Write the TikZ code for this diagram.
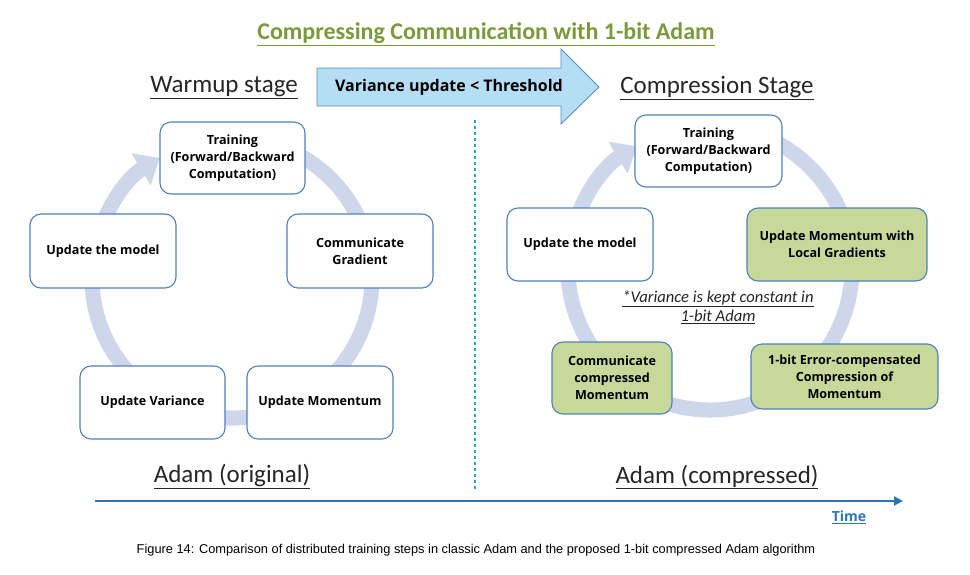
\documentclass[tikz,border=0pt]{standalone}
\usepackage{fontspec}
\setmainfont{Open Sans}
\newfontfamily\headfont{Carlito}
\newfontfamily\capfont{Liberation Sans}
\usetikzlibrary{arrows.meta}
\definecolor{ringc}{HTML}{CDD6EB}
\definecolor{boxc}{HTML}{4F81BD}
\definecolor{greenc}{HTML}{C6D99A}
\definecolor{titlec}{HTML}{7A9A3C}
\definecolor{arrowfill}{HTML}{B5DDF3}
\definecolor{arrowdraw}{HTML}{5A8EC0}
\definecolor{axisc}{HTML}{2E75B6}
\definecolor{dotc}{HTML}{2AA0D8}
\begin{document}
\begin{tikzpicture}[x=1pt,y=1pt,
  stepbox/.style={draw=boxc, line width=1.1pt, rounded corners=11pt, fill=white, align=center,
    font=\bfseries\fontsize{12.6}{17}\selectfont, inner sep=2pt},
  greenbox/.style={stepbox, fill=greenc},
  ring/.style={draw=ringc, line width=15pt, -{Triangle[width=36pt,length=22pt]}},
  heading/.style={font=\headfont\fontsize{25}{30}\selectfont, text=black!85, inner sep=0pt}]
\useasboundingbox (0,0) rectangle (970,-574);
\fill[white] (0,0) rectangle (970,-574);

% title
\node[font=\headfont\bfseries\fontsize{24}{28}\selectfont, text=titlec, inner sep=0pt] (title) at (486,-34) {\underline{Compressing Communication with 1-bit Adam}};

% stage headings
\node[heading] (warm) at (224,-88) {\underline{Warmup stage}};
\node[heading] (comp) at (717,-88) {\underline{Compression Stage}};
\node[heading] (adamo) at (232,-476) {\underline{Adam (original)}};
\node[heading] (adamc) at (717,-477) {\underline{Adam (compressed)}};

% big arrow
\draw[fill=arrowfill, draw=arrowdraw, line width=0.9pt, line join=miter]
  (317,-68) -- (561,-68) -- (561,-49) -- (599,-87) -- (561,-124) -- (561,-106) -- (317,-106) -- cycle;
\node[font=\bfseries\fontsize{16}{19}\selectfont, inner sep=0pt] (thr) at (449,-87) {Variance update < Threshold};

% dotted divider
\coordinate (d0) at (475,-120);
\coordinate (d1) at (475,-492);
\draw[dotc, line width=2.6pt, dash pattern=on 2.6pt off 3.4pt] (d0) -- (d1);

% rings
\draw[ring] (232,-278) ++(80:140) arc[start angle=80, end angle=-239, radius=140];
\draw[ring] (710,-268) ++(80:142) arc[start angle=80, end angle=-239, radius=142];

% left boxes
\node[stepbox, minimum width=145pt, minimum height=72pt] (l1) at (232.5,-158) {Training\\(Forward/Backward\\Computation)};
\node[stepbox, minimum width=146pt, minimum height=74pt] (l2) at (360,-251) {Communicate\\Gradient};
\node[stepbox, minimum width=146pt, minimum height=73pt] (l3) at (320,-402.5) {Update Momentum};
\node[stepbox, minimum width=145pt, minimum height=73pt] (l4) at (152.5,-402.5) {Update Variance};
\node[stepbox, minimum width=146pt, minimum height=74pt] (l5) at (103,-251) {Update the model};

% right boxes
\node[stepbox, minimum width=147pt, minimum height=72pt] (r1) at (708.5,-151) {Training\\(Forward/Backward\\Computation)};
\node[greenbox, minimum width=180pt, minimum height=73pt] (r2) at (837,-244.5) {Update Momentum with\\Local Gradients};
\node[greenbox, minimum width=187pt, minimum height=65pt] (r3) at (844.5,-376.5) {1-bit Error-compensated\\Compression of\\Momentum};
\node[greenbox, minimum width=120pt, minimum height=72pt] (r4) at (612,-378) {Communicate\\compressed\\Momentum};
\node[stepbox, minimum width=146pt, minimum height=73pt] (r5) at (580,-244.5) {Update the model};

% note
\node[font=\headfont\itshape\fontsize{16.6}{19}\selectfont, align=center, text=black!85, inner sep=0pt] (note) at (718,-307)
  {\underline{*Variance is kept constant in}\\\underline{1-bit Adam}};

% time axis
\coordinate (t0) at (95,-501);
\coordinate (t1) at (903,-501);
\draw[axisc, line width=2.5pt, -{Triangle[width=9pt,length=9pt]}] (t0) -- (t1);
\node[font=\bfseries\fontsize{14}{16}\selectfont, text=axisc, inner sep=0pt] (time) at (849,-517) {\underline{Time}};

% caption
\node[font=\capfont\fontsize{12.8}{15}\selectfont, inner sep=0pt] (cap) at (476,-550)
  {Figure 14: Comparison of distributed training steps in classic Adam and the proposed 1-bit compressed Adam algorithm};
\end{tikzpicture}
\end{document}
